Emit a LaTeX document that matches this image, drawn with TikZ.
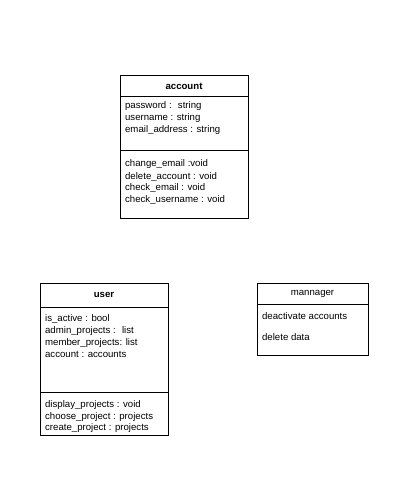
\documentclass[tikz,border=0pt]{standalone}
\usepackage{fontspec}
\setmainfont{Liberation Sans}
\begin{document}
\begin{tikzpicture}[scale=0.05]
\tikzstyle{every node}+=[inner sep=0pt, font=\fontsize{13.7}{16}\selectfont]
\useasboundingbox (0,0) rectangle (404,-495);
\draw [black, line width=1pt] (120,-75) rectangle (248,-218);
\draw [black, line width=1pt] (120,-96) -- (248,-96);
\draw [black, line width=1pt] (120,-150) -- (248,-150);
\draw (184,-86) node (account) {\textbf{account}};
\draw (125,-106.5) node [right] (password) {password : \ string};
\draw (125,-118.5) node [right] (username) {username : string};
\draw (125,-130.5) node [right] (email) {email\_address : string};
\draw (125,-164.5) node [right] (changeemail) {change\_email :void};
\draw (125,-176.5) node [right] (deleteaccount) {delete\_account : void};
\draw (125,-188) node [right] (checkemail) {check\_email : void};
\draw (125,-199.5) node [right] (checkusername) {check\_username : void};
\draw [black, line width=1pt] (40,-283) rectangle (168,-435);
\draw [black, line width=1pt] (40,-307) -- (168,-307);
\draw [black, line width=1pt] (40,-392) -- (168,-392);
\draw (104,-295) node (user) {\textbf{user}};
\draw (45,-319) node [right] (isactive) {is\_active : bool};
\draw (45,-331) node [right] (adminprojects) {admin\_projects : \ list};
\draw (45,-343) node [right] (memberprojects) {member\_projects: list};
\draw (45,-354.5) node [right] (useraccount) {account : accounts};
\draw (45,-405) node [right] (displayprojects) {display\_projects : void};
\draw (45,-417) node [right] (chooseproject) {choose\_project : projects};
\draw (45,-428.5) node [right] (createproject) {create\_project : projects};
\draw [black, line width=1pt] (257,-283) rectangle (368,-355);
\draw [black, line width=1pt] (257,-304) -- (368,-304);
\draw (312.5,-294) node (mannager) {mannager};
\draw (262,-316) node [right] (deactivate) {deactivate accounts};
\draw (262,-337) node [right] (deletedata) {delete data};
\end{tikzpicture}
\end{document}
